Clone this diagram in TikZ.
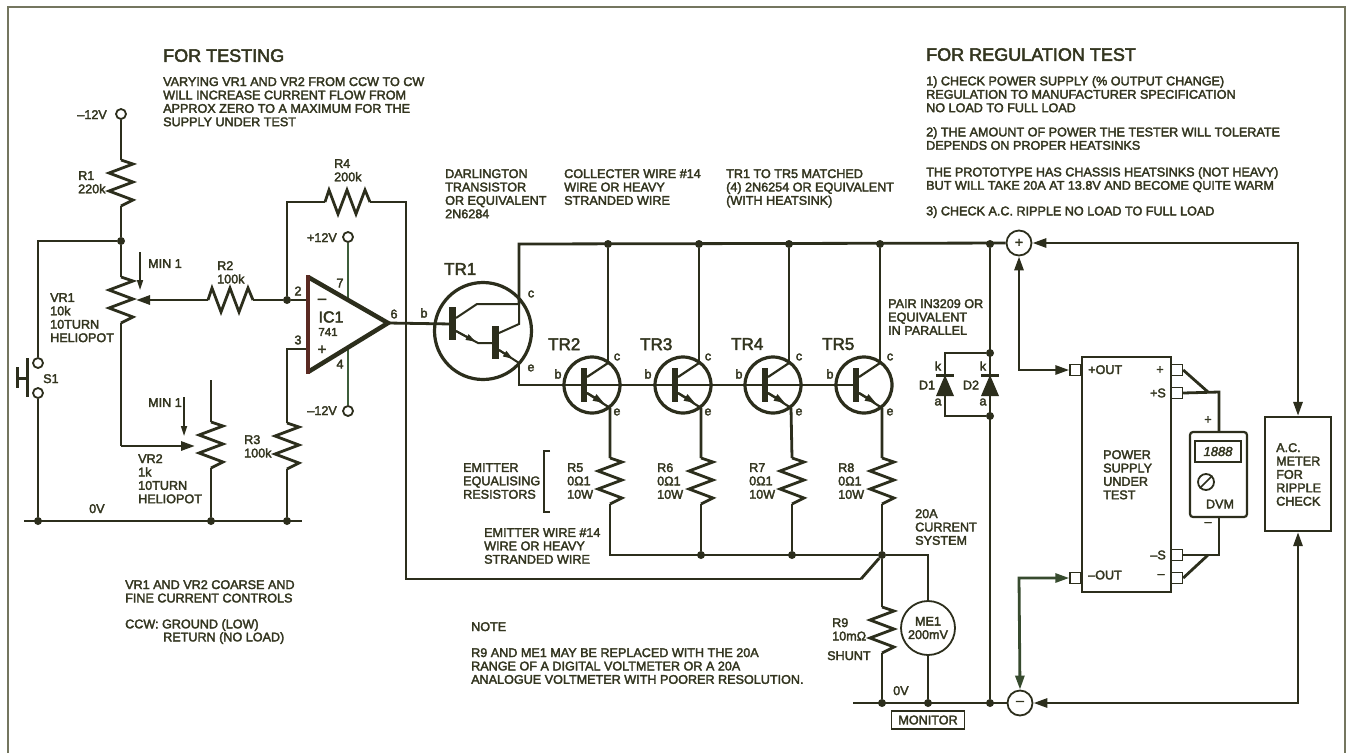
\documentclass[tikz,border=0pt]{standalone}
\usepackage{fontspec}
\setmainfont[FakeBold=2.6]{Liberation Sans}
\usetikzlibrary{arrows.meta,calc}
\definecolor{ink}{HTML}{2C2E1C}
\definecolor{txt}{HTML}{33351F}
\definecolor{framec}{HTML}{74765F}
\definecolor{greenw}{HTML}{3E5E3A}
\definecolor{redw}{HTML}{5A2A22}
\tikzset{
 wire/.style={draw=ink,line width=2.8pt,line join=miter},
 thin wire/.style={draw=ink,line width=1.6pt},
 tip/.style={-{Triangle[length=14pt,width=9pt]}},
 lbl/.style={anchor=north west,inner sep=0pt,align=left,text=txt,font=\fontsize{12.6}{13.4}\selectfont},
 lblc/.style={lbl,anchor=center,align=center},
 big/.style={lbl,font=\fontsize{17}{19}\selectfont},
 head/.style={lbl,font=\fontsize{18}{19}\selectfont},
 dot/.style={circle,fill=ink,inner sep=0pt,minimum size=8pt},
 term/.style={circle,draw=ink,fill=white,line width=1.8pt,inner sep=0pt,minimum size=10pt},
 pm/.style={circle,draw=ink,fill=white,line width=1.8pt,inner sep=0pt,minimum size=25pt,font=\fontsize{14}{14}\selectfont,text=txt},
 pad/.style={rectangle,draw=ink,fill=white,line width=1.4pt,inner sep=0pt,minimum size=11pt},
 trc/.style={circle,draw=ink,line width=3.2pt,inner sep=0pt},
}
\newcommand{\resV}[3]{\coordinate (#1-a) at (#2,#3); \coordinate (#1-b) at (#2,#3+46);
 \draw[wire,shift={(#2,#3)}] (0,0)--(12,4)--(-12,13)--(12,22)--(-12,31)--(12,40)--(0,46);}
\newcommand{\resH}[3]{\coordinate (#1-a) at (#2,#3); \coordinate (#1-b) at (#2+45,#3);
 \draw[wire,shift={(#2,#3)}] (0,0)--(4,-12)--(13,12)--(22,-12)--(31,12)--(40,-12)--(45,0);}
\newcommand{\npn}[3]{%
 \node[trc,minimum size=56pt] (#1) at (#2,#3) {};
 \coordinate (#1-c) at (#2+16,#3-22); \coordinate (#1-e) at (#2+18,#3+23);
 \fill[ink] (#2-11,#3-17) rectangle (#2-5,#3+17);
 \draw[wire,line width=2.2pt] (#2-5,#3-8) -- (#1-c);
 \draw[wire,line width=2.2pt] (#2-5,#3+8) -- (#1-e);
 \draw[wire,line width=2.2pt,-{Triangle[length=11pt,width=7pt]}] (#2-5,#3+8) -- (#2+12,#3+18);}
\begin{document}
\begin{tikzpicture}[x=1pt,y=-1pt]
\useasboundingbox (0,0) rectangle (1348,753);
\fill[white] (0,0) rectangle (1348,753);
\coordinate (f1) at (8,753); \coordinate (f2) at (8,7); \coordinate (f3) at (1345,7); \coordinate (f4) at (1345,753);
\draw[framec,line width=1.6pt] (f1)--(f2)--(f3)--(f4);

% left: terminals and controls
\node[term] (m12a) at (121,114) {};
\resV{R1}{121}{160}
\node[dot] (j1) at (121,241) {};
\draw[wire] (m12a)--(R1-a) (R1-b)--(j1);
\node[term] (s1a) at (38,363) {};
\node[term] (s1b) at (38,393) {};
\coordinate (gl) at (24,521); \coordinate (gr) at (302,521);
\draw[wire] (gl)--(gr);
\node[dot] (g1) at (38,521) {};
\node[dot] (g2) at (211,521) {};
\node[dot] (g3) at (287,521) {};
\draw[wire] (j1) -| (s1a);
\draw[wire] (s1b)--(g1);
\coordinate (pb1) at (27,358); \coordinate (pb2) at (27,397); \coordinate (pb3) at (27,378); \coordinate (pb4) at (17,378); \coordinate (pb5) at (17,367); \coordinate (pb6) at (17,388);
\draw[wire,line width=3pt] (pb1)--(pb2) (pb3)--(pb4) (pb5)--(pb6);
\resV{VR1}{121}{277}
\draw[wire] (j1)--(VR1-a);
\resV{VR2}{211}{422}
\coordinate (vr2t) at (211,380);
\draw[wire] (vr2t)--(VR2-a) (VR2-b)--(g2);
\coordinate (vr2w) at (121,446); \coordinate (vr2tip) at (195,446);
\draw[wire] (VR1-b)--(vr2w);
\draw[wire,tip] (vr2w)--(vr2tip);
\resH{R2}{208}{300}
\coordinate (vr1tip) at (136,300);
\draw[wire,tip] (R2-a)--(vr1tip);
\node[dot] (j2) at (287,300) {};
\draw[wire] (R2-b)--(j2);
\coordinate (m1a) at (140,252); \coordinate (m1b) at (140,290); \coordinate (m2a) at (184,397); \coordinate (m2b) at (184,436);
\draw[thin wire,-{Triangle[length=10pt,width=6pt]}] (m1a)--(m1b);
\draw[thin wire,-{Triangle[length=10pt,width=6pt]}] (m2a)--(m2b);

% op amp
\coordinate (oa1) at (308,277); \coordinate (oa2) at (308,372); \coordinate (oa3) at (388,323);
\coordinate (pin2) at (308,300); \coordinate (pin3) at (308,349);
\node[term] (p12) at (348,237) {};
\node[term] (n12) at (348,411) {};
\coordinate (p7) at (348,299); \coordinate (p4) at (348,349);
\draw[greenw,line width=1.8pt] (p12)--(p7) (p4)--(n12);
\draw[wire] (j2)--(pin2);
\draw[wire] (pin3) -| (287,390) coordinate (r3top);
\resV{R3}{287}{423}
\draw[wire] (r3top)--(R3-a) (R3-b)--(g3);
\draw[ink,line width=4.5pt,line join=miter] (oa1)--(oa3)--(oa2);
\draw[redw,line width=3.5pt,line cap=rect] (oa1)--(oa2);
\resH{R4}{325}{202}
\draw[wire] (j2) |- (R4-a);
\coordinate (fbt) at (406,202); \coordinate (fbo) at (406,323); \coordinate (fbb) at (406,579); \coordinate (fbr) at (861,579);
\draw[wire] (R4-b)--(fbt)--(fbb)--(fbr);
% TR1
\node[trc,minimum size=97pt] (tr1) at (483,331) {};
\coordinate (tr1b) at (452,324);
\draw[wire] (oa3)--(tr1b);
\fill[ink] (449,307) rectangle (456,340);
\fill[ink] (492,326) rectangle (499,359);
\coordinate (a1) at (456,318); \coordinate (a2) at (477,304); \coordinate (tr1c) at (519,304);
\coordinate (b1) at (456,331); \coordinate (b2) at (478,343); \coordinate (b3) at (493,343);
\coordinate (c1) at (499,333); \coordinate (c2) at (519,324);
\coordinate (d1) at (499,350); \coordinate (tr1e) at (519,363); \coordinate (d2) at (513,359);
\draw[wire,line width=2pt] (a1)--(a2)--(tr1c);
\draw[wire,line width=2pt] (b1)--(b2)--(b3);
\draw[wire,line width=2pt,-{Triangle[length=10pt,width=6pt]}] (b1)--($(b1)!0.9!(b2)$);
\draw[wire,line width=2pt] (c1)--(c2)--(tr1c);
\draw[wire,line width=2pt] (d1)--(tr1e);
\draw[wire,line width=2pt,-{Triangle[length=10pt,width=6pt]}] (d1)--(d2);

% darlington outputs
\coordinate (topl) at (519,244); \coordinate (bl) at (519,385);
\node[pm] (plus) at (1019,243) {+};
\node[pm] (minus) at (1020,703) {--};
\draw[wire] (tr1c)--(topl)--(plus);
\npn{tr2}{592}{385}
\npn{tr3}{683}{385}
\npn{tr4}{773}{385}
\npn{tr5}{864}{385}
\coordinate (blend) at (855,385);
\draw[wire] (tr1e)--(bl)--(blend);
\node[dot] (t2) at (tr2-c |- topl) {};
\node[dot] (t3) at (tr3-c |- topl) {};
\node[dot] (t4) at (tr4-c |- topl) {};
\node[dot] (t5) at (tr5-c |- topl) {};
\node[dot] (t6) at (990,244) {};
\draw[wire] (t2)--(tr2-c) (t3)--(tr3-c) (t4)--(tr4-c) (t5)--(tr5-c);
\resV{R5}{610}{458}
\resV{R6}{701}{458}
\resV{R7}{792}{458}
\resV{R8}{882}{458}
\draw[wire] (tr2-e)--(R5-a) (tr3-e)--(R6-a) (tr4-e)--(R7-a) (tr5-e)--(R8-a);
\node[dot] (e6) at (701,555) {};
\node[dot] (e7) at (792,555) {};
\node[dot] (e8) at (882,555) {};
\coordinate (e5) at (610,555);
\draw[wire] (R5-b)--(e5)--(e8);
\draw[wire] (R6-b)--(e6) (R7-b)--(e7) (R8-b)--(e8);
\draw[wire] (fbr)--(e8);
\resV{R9}{882}{607}
\node[circle,draw=ink,line width=1.8pt,minimum size=54pt,inner sep=0pt,font=\fontsize{12.6}{13.4}\selectfont,align=center,text=txt] (me1) at (928,628) {ME1\\200mV};
\coordinate (z0) at (853,703);
\node[dot] (z1) at (882,703) {};
\node[dot] (z2) at (928,703) {};
\node[dot] (z3) at (990,703) {};
\draw[wire] (z0)--(minus);
\draw[wire] (e8)--(R9-a) (R9-b)--(z1);
\draw[thin wire] (e8)-|(me1.north) (me1.south)--(z2);
\draw[wire] (t6)--(z3);
\node[draw=ink,line width=1.6pt,minimum width=73pt,minimum height=18pt,inner sep=0pt,font=\fontsize{12.6}{13.4}\selectfont,text=txt] (mon) at (928,720) {MONITOR};
% diodes
\node[dot] (dj1) at (990,353) {};
\node[dot] (dj2) at (990,416) {};
\coordinate (dt) at (945,353); \coordinate (db) at (945,416);
\draw[wire] (dj1)--(dt)--(db)--(dj2);
\foreach \dx/\nm in {945/da,990/db2}{
 \fill[ink] (\dx-9,374) rectangle (\dx+9,376.5);
 \fill[ink] (\dx,375)--(\dx+9,396)--(\dx-9,396)--cycle;
}
% power supply
\node[draw=ink,fill=white,line width=2.4pt,minimum width=89pt,minimum height=235pt,inner sep=0pt] (ps) at (1126.5,474.5) {};
\node[pad] (po) at (1075.5,370) {};
\node[pad] (no) at (1075.5,578) {};
\node[pad] (rp) at (1177,370) {};
\node[pad] (rs) at (1177,393) {};
\node[pad] (rms) at (1177,555) {};
\node[pad] (rm) at (1177,578) {};
\coordinate (plusd) at (1019,370); \coordinate (minusd) at (1019,578);
\draw[wire,{Triangle[length=14pt,width=9pt]}-{Triangle[length=14pt,width=9pt]}] (plus.south) -- (plusd) -- (po.west);
\draw[wire,{Triangle[length=14pt,width=9pt]}-{Triangle[length=14pt,width=9pt]},draw=greenw!60!ink] (minus.north) -- (minusd) -- (no.west);
% DVM
\node[draw=ink,line width=2.2pt,rounded corners=3pt,minimum width=57pt,minimum height=85pt,inner sep=0pt] (dvm) at (1218.5,474.5) {};
\node[draw=ink,line width=1.4pt,minimum width=46pt,minimum height=21pt,inner sep=0pt,font=\itshape\fontsize{13}{13}\selectfont,text=txt] (disp) at (1218,451.5) {1888};
\node[circle,draw=ink,line width=1.8pt,minimum size=16pt,inner sep=0pt] (knob) at (1206,482) {};
\draw[ink,line width=1.6pt] (knob.south west)--(knob.north east);
\coordinate (sp) at (1219,392); \coordinate (sn) at (1219,555);
\coordinate (sp2) at (1208,392); \coordinate (sn2) at (1208,555);
\draw[wire] (rs.east)--(sp)--(sp |- dvm.north);
\draw[wire] (rp.east)--(sp2);
\draw[wire] (rms.east)--(sn)--(sn |- dvm.south);
\draw[wire] (rm.east)--(sn2);
% AC meter
\node[draw=ink,line width=2.2pt,minimum width=66pt,minimum height=114pt,inner sep=0pt] (ac) at (1298,474) {};
\coordinate (rt) at (1298,243); \coordinate (rb) at (1298,703);
\draw[wire,{Triangle[length=14pt,width=9pt]}-{Triangle[length=14pt,width=9pt]}] (plus.east)--(rt)--(ac.north);
\draw[wire,{Triangle[length=14pt,width=9pt]}-{Triangle[length=14pt,width=9pt]}] (minus.east)--(rb)--(ac.south);
% bracket
\coordinate (br1) at (550,451); \coordinate (br2) at (544,451); \coordinate (br3) at (544,512); \coordinate (br4) at (550,512);
\draw[ink,line width=1.2pt] (br1)--(br2)--(br3)--(br4);

% headings and notes
\node[head] (h1) at (163,49) {FOR TESTING};
\node[head] (h2) at (926,48) {FOR REGULATION TEST};
\node[lbl] (n1) at (163,77) {VARYING VR1 AND VR2 FROM CCW TO CW\\WILL INCREASE CURRENT FLOW FROM\\APPROX ZERO TO A MAXIMUM FOR THE\\SUPPLY UNDER TEST};
\node[lbl] (n2) at (926,76) {1) CHECK POWER SUPPLY (\% OUTPUT CHANGE)\\REGULATION TO MANUFACTURER SPECIFICATION\\NO LOAD TO FULL LOAD};
\node[lbl] (n3) at (926,127) {2) THE AMOUNT OF POWER THE TESTER WILL TOLERATE\\DEPENDS ON PROPER HEATSINKS};
\node[lbl] (n4) at (926,167) {THE PROTOTYPE HAS CHASSIS HEATSINKS (NOT HEAVY)\\BUT WILL TAKE 20A AT 13.8V AND BECOME QUITE WARM};
\node[lbl] (n5) at (926,206) {3) CHECK A.C. RIPPLE NO LOAD TO FULL LOAD};
\node[lbl] (n6) at (445,169) {DARLINGTON\\TRANSISTOR\\OR EQUIVALENT\\2N6284};
\node[lbl] (n7) at (564,169) {COLLECTER WIRE \#14\\WIRE OR HEAVY\\STRANDED WIRE};
\node[lbl] (n8) at (726,169) {TR1 TO TR5 MATCHED\\(4) 2N6254 OR EQUIVALENT\\(WITH HEATSINK)};
\node[lbl] (n9) at (888,299) {PAIR IN3209 OR\\EQUIVALENT\\IN PARALLEL};
\node[lbl] (n10) at (463,463) {EMITTER\\EQUALISING\\RESISTORS};
\node[lbl] (n11) at (484,528) {EMITTER WIRE \#14\\WIRE OR HEAVY\\STRANDED WIRE};
\node[lbl] (n12) at (915,509) {20A\\CURRENT\\SYSTEM};
\node[lbl] (n13) at (471,622) {NOTE};
\node[lbl] (n14) at (471,648) {R9 AND ME1 MAY BE REPLACED WITH THE 20A\\RANGE OF A DIGITAL VOLTMETER OR A 20A\\ANALOGUE VOLTMETER WITH POORER RESOLUTION.};
\node[lbl] (n15) at (125,580) {VR1 AND VR2 COARSE AND\\FINE CURRENT CONTROLS};
\node[lbl] (n16) at (125,619) {CCW: GROUND (LOW)};
\node[lbl] (n17) at (163,632) {RETURN (NO LOAD)};

% component labels
\node[lbl,anchor=north east] (l1) at (107,110) {--12V};
\node[lbl] (l2) at (78,171) {R1\\220k};
\node[lbl] (l3) at (334,159) {R4\\200k};
\node[lbl] (l4) at (217,261) {R2\\100k};
\node[lbl] (l5) at (148,259) {MIN 1};
\node[lbl] (l6) at (148,398) {MIN 1};
\node[lbl] (l7) at (50,293) {VR1\\10k\\10TURN\\HELIOPOT};
\node[lbl] (l8) at (43,374) {S1};
\node[lbl] (l9) at (138,454) {VR2\\1k\\10TURN\\HELIOPOT};
\node[lbl] (l10) at (244,435) {R3\\100k};
\node[lbl] (l11) at (89,504) {0V};
\node[lbl,anchor=north east] (l12) at (337,233) {+12V};
\node[lbl,anchor=north east] (l13) at (337,406) {--12V};
\node[lblc] (l14) at (340,283) {7};
\node[lblc] (l15) at (340,364) {4};
\node[lblc] (l16) at (298,291) {2};
\node[lblc] (l17) at (298,340) {3};
\node[lblc] (l18) at (394,314) {6};
\node[lblc] (l19) at (424,313) {b};
\node[lblc,font=\fontsize{15}{15}\selectfont] (l20) at (322,301) {--};
\node[lblc,font=\fontsize{15}{15}\selectfont] (l21) at (322,350) {+};
\node[lblc,font=\fontsize{16}{16}\selectfont] (l22) at (331,317) {IC1};
\node[lblc,font=\fontsize{11.5}{12}\selectfont] (l23) at (328,332) {741};
\node[big] (l24) at (444,263) {TR1};
\node[big] (l25) at (548,338) {TR2};
\node[big] (l26) at (640,338) {TR3};
\node[big] (l27) at (731,338) {TR4};
\node[big] (l28) at (822,338) {TR5};
\node[lblc] (c1l) at (531,294) {c};
\node[lblc] (e1l) at (531,368) {e};
\foreach \bx/\cx/\k in {558/617/2,648/708/3,739/799/4,830/890/5}{
 \node[lblc] (b\k l) at (\bx,374) {b};
 \node[lblc] (c\k l) at (\cx,357) {c};
 \node[lblc] (e\k l) at (\cx,412) {e};
}
\node[lbl] (l29) at (567,463) {R5\\0\symbol{"03A9}1\\10W};
\node[lbl] (l30) at (657,463) {R6\\0\symbol{"03A9}1\\10W};
\node[lbl] (l31) at (749,463) {R7\\0\symbol{"03A9}1\\10W};
\node[lbl] (l32) at (838,463) {R8\\0\symbol{"03A9}1\\10W};
\node[lbl] (l33) at (832,618) {R9\\10m\symbol{"03A9}};
\node[lbl] (l34) at (827,651) {SHUNT};
\node[lbl] (l35) at (893,686) {0V};
\node[lblc] (l36) at (938,366) {k};
\node[lblc] (l37) at (983,366) {k};
\node[lblc] (l38) at (938,402) {a};
\node[lblc] (l39) at (983,402) {a};
\node[lblc] (l40) at (927,385) {D1};
\node[lblc] (l41) at (971,385) {D2};
\node[lbl] (l42) at (1088,365) {+OUT};
\node[lblc] (l43) at (1160,370) {+};
\node[lbl,anchor=east] (l44) at (1166,393) {+S};
\node[lbl,anchor=east] (l45) at (1166,555) {--S};
\node[lblc] (l46) at (1161,576) {--};
\node[lbl,anchor=west] (l47) at (1088,575) {--OUT};
\node[lbl] (l48) at (1103,450) {POWER\\SUPPLY\\UNDER\\TEST};
\node[lbl] (l49) at (1276,443) {A.C.\\METER\\FOR\\RIPPLE\\CHECK};
\node[lblc] (l50) at (1220,504) {DVM};
\node[lblc] (l51) at (1208,420) {+};
\node[lblc] (l52) at (1208,524) {--};
\end{tikzpicture}
\end{document}
